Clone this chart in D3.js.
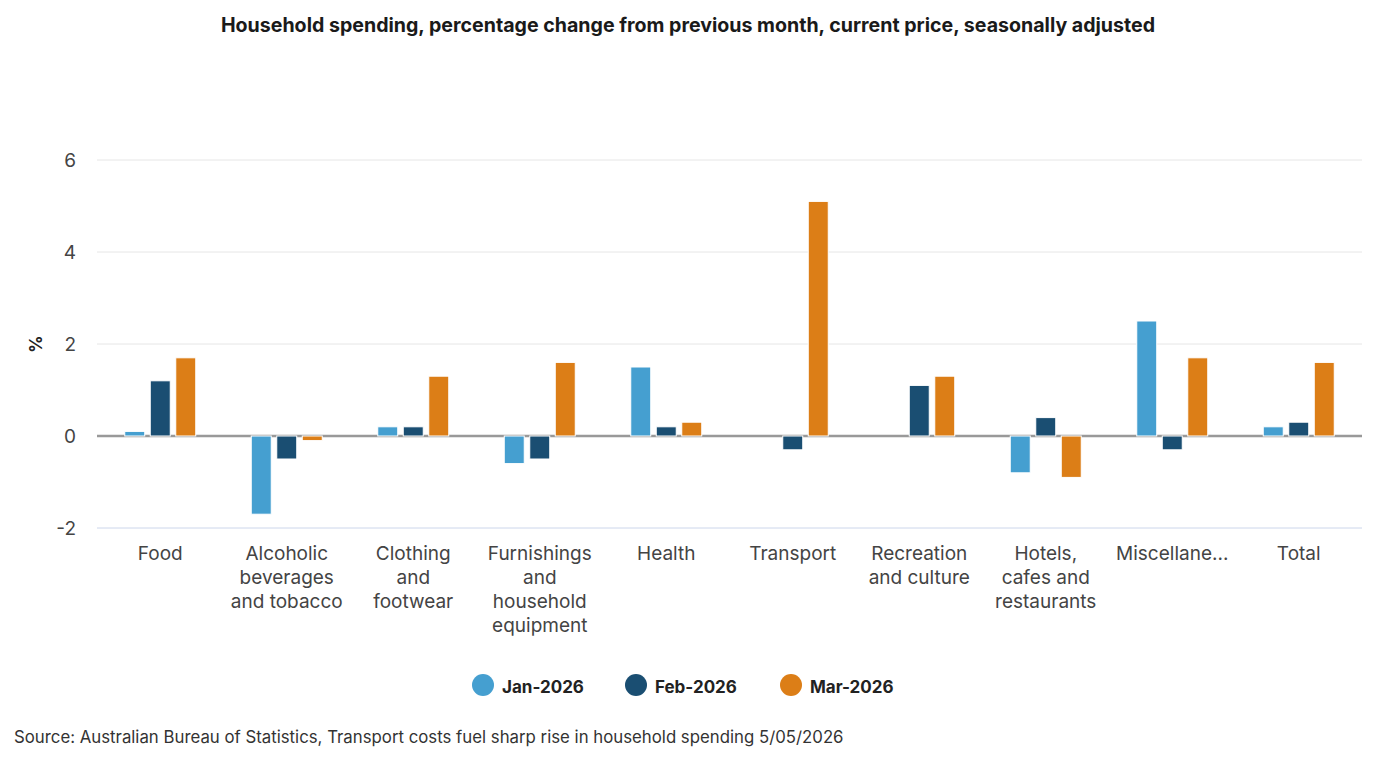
<!DOCTYPE html>
<html lang="en">
<head>
  <meta charset="UTF-8">
  <title>Household spending</title>
  <script src="https://d3js.org/d3.v7.min.js"></script>
  <style>
    body { margin: 0; background: #fff; font-family: Inter, "Noto Sans", sans-serif; }
    .tick-label { fill: #444; font-size: 19px; }
    .cat-label { fill: #444; font-size: 19px; }
    .legend-label { fill: #222; font-size: 17px; font-weight: 700; }
  </style>
</head>
<body>
<svg id="svg"></svg>
<script>
// data
const categories = ["Food", "Alcoholic beverages and tobacco", "Clothing and footwear",
  "Furnishings and household equipment", "Health", "Transport", "Recreation and culture",
  "Hotels, cafes and restaurants", "Miscellaneous", "Total"];
const categoryLines = [
  ["Food"],
  ["Alcoholic", "beverages", "and tobacco"],
  ["Clothing", "and", "footwear"],
  ["Furnishings", "and", "household", "equipment"],
  ["Health"],
  ["Transport"],
  ["Recreation", "and culture"],
  ["Hotels,", "cafes and", "restaurants"],
  ["Miscellane..."],
  ["Total"]
];
const seriesNames = ["Jan-2026", "Feb-2026", "Mar-2026"];
const jan = [0.1, -1.7, 0.2, -0.6, 1.5, 0.0, 0.0, -0.8, 2.5, 0.2];
const feb = [1.2, -0.5, 0.2, -0.5, 0.2, -0.3, 1.1, 0.4, -0.3, 0.3];
const mar = [1.7, -0.1, 1.3, 1.6, 0.3, 5.1, 1.3, -0.9, 1.7, 1.6];
const yTicks = [-2, 0, 2, 4, 6];
const colours = ["#459fd0", "#1a4e72", "#dc7e17"];

const seriesValues = [jan, feb, mar];

const width = 1376, height = 768;
const svg = d3.select("#svg").attr("width", width).attr("height", height);

const x = d3.scaleBand().domain(categories).range([97, 1362]);
const xInner = d3.scaleBand().domain(seriesNames).range([-35.5, 35.5]).paddingInner(0.216);
const y = d3.scaleLinear().domain([-2, 6]).range([528, 160]);
const colour = d3.scaleOrdinal().domain(seriesNames).range(colours);

// title
svg.append("text")
  .attr("x", 688).attr("y", 32)
  .attr("text-anchor", "middle")
  .style("font-size", "19.6px").style("font-weight", 700).style("fill", "#1a1a1a")
  .text("Household spending, percentage change from previous month, current price, seasonally adjusted");

// grid lines
svg.selectAll(".grid")
  .data(yTicks.filter(t => t !== 0))
  .join("line")
  .attr("class", "grid")
  .attr("x1", 97).attr("x2", 1362)
  .attr("y1", d => y(d)).attr("y2", d => y(d))
  .attr("stroke", d => d === -2 ? "#ccd6eb" : "#e6e6e6")
  .attr("stroke-width", 1);

// y tick labels
svg.selectAll(".tick-label")
  .data(yTicks)
  .join("text")
  .attr("class", "tick-label")
  .attr("x", 76).attr("y", d => y(d) + 7)
  .attr("text-anchor", "end")
  .text(d => d);

svg.append("text")
  .attr("transform", `translate(42, ${y(2)}) rotate(-90)`)
  .attr("text-anchor", "middle")
  .style("font-size", "17px").style("font-weight", 700).style("fill", "#222")
  .text("%");

// zero line
svg.append("line")
  .attr("x1", 97).attr("x2", 1362)
  .attr("y1", y(0)).attr("y2", y(0))
  .attr("stroke", "#999").attr("stroke-width", 2.5);

// bars
const bars = [];
categories.forEach((c, i) => {
  seriesNames.forEach((s, j) => {
    bars.push({ cat: c, series: s, value: seriesValues[j][i] });
  });
});

svg.selectAll(".bar")
  .data(bars.filter(d => d.value !== 0))
  .join("rect")
  .attr("class", "bar")
  .attr("x", d => x(d.cat) + x.bandwidth() / 2 + xInner(d.series))
  .attr("width", xInner.bandwidth())
  .attr("y", d => y(Math.max(0, d.value)))
  .attr("height", d => Math.abs(y(d.value) - y(0)))
  .attr("fill", d => colour(d.series))
  .attr("stroke", "#fff").attr("stroke-width", 1);

// category labels
const catG = svg.selectAll(".cat")
  .data(categories)
  .join("text")
  .attr("class", "cat-label")
  .attr("text-anchor", "middle")
  .attr("x", d => x(d) + x.bandwidth() / 2)
  .attr("y", 560);
catG.selectAll("tspan")
  .data((d, i) => categoryLines[i])
  .join("tspan")
  .attr("x", function() { return d3.select(this.parentNode).attr("x"); })
  .attr("dy", (d, i) => i === 0 ? 0 : 24)
  .text(d => d);

// legend
const legendX = [483, 636, 791];
const legend = svg.selectAll(".legend")
  .data(seriesNames)
  .join("g")
  .attr("class", "legend")
  .attr("transform", (d, i) => `translate(${legendX[i]}, 685)`);
legend.append("circle").attr("r", 11).attr("fill", d => colour(d));
legend.append("text")
  .attr("class", "legend-label")
  .attr("x", 19).attr("y", 8)
  .text(d => d);

// source
svg.append("text")
  .attr("x", 14).attr("y", 743)
  .style("font-size", "16.8px").style("fill", "#333")
  .text("Source: Australian Bureau of Statistics, Transport costs fuel sharp rise in household spending 5/05/2026");
</script>
</body>
</html>
